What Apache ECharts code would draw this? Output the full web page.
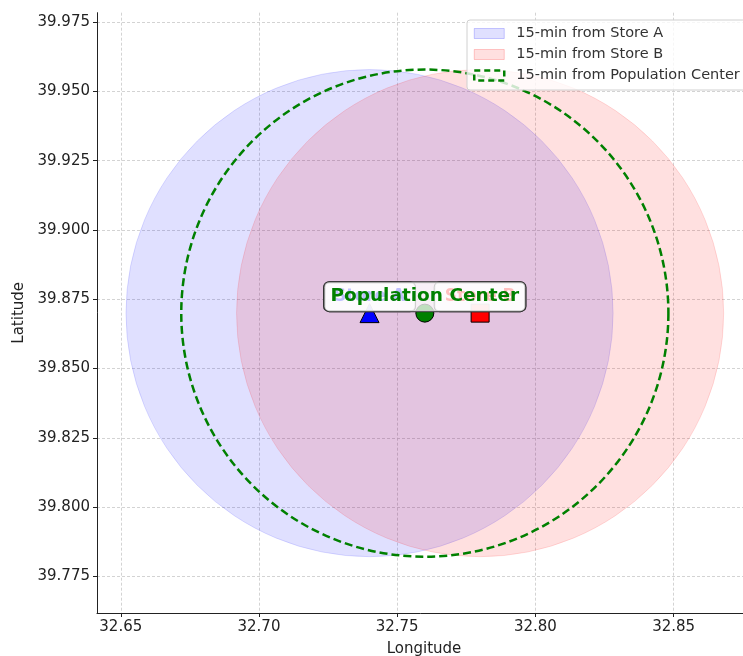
<!DOCTYPE html>
<html>
<head>
<meta charset="utf-8">
<script src="https://cdn.jsdelivr.net/npm/echarts@6/dist/echarts.min.js"></script>
<style>
  html, body { margin: 0; padding: 0; background: #fff; overflow: hidden; }
  #chart { width: 743px; height: 656px; }
</style>
</head>
<body>
<div id="chart"></div>
<script>
// ---- data ----
const storeA = [32.74, 39.87];
const storeB = [32.78, 39.87];
const popCenter = [32.76, 39.87];
const radiusDeg = 0.088;
const xTicks = [32.65, 32.70, 32.75, 32.80, 32.85];
const yTicks = [39.775, 39.800, 39.825, 39.850, 39.875, 39.900, 39.925, 39.950, 39.975];
const xRange = [32.6414, 32.878];
const yRange = [39.7618, 39.9784];
const nameA = '15-min from Store A';
const nameB = '15-min from Store B';
const nameP = '15-min from Population Center';

const FONT = 'DejaVu Sans';

function circleSeries(name, center, fill, stroke, lineWidth, dash, z) {
  return {
    type: 'custom',
    name: name,
    coordinateSystem: 'cartesian2d',
    z: z,
    silent: true,
    encode: { x: 0, y: 1 },
    data: [[center[0], center[1], radiusDeg]],
    itemStyle: { color: fill === 'none' ? stroke : fill },
    renderItem: function (params, api) {
      const c = api.coord([api.value(0), api.value(1)]);
      const s = api.size([api.value(2), api.value(2)]);
      const r = (s[0] + s[1]) / 2;
      return {
        type: 'circle',
        shape: { cx: c[0], cy: c[1], r: r },
        style: {
          fill: fill,
          stroke: stroke,
          lineWidth: lineWidth,
          lineDash: dash
        }
      };
    }
  };
}

function pointSeries(pt, symbol, color, labelText, labelColor, fontSize, pad, z) {
  return {
    type: 'scatter',
    z: z,
    symbol: symbol,
    symbolSize: symbol === 'triangle' ? 19 : 18,
    data: [pt],
    itemStyle: { color: color, borderColor: '#000', borderWidth: 1, opacity: 1 },
    label: {
      show: true,
      position: 'inside',
      offset: [0, -16.5],
      formatter: labelText,
      color: labelColor,
      fontFamily: FONT,
      fontWeight: 'bold',
      fontSize: fontSize,
      lineHeight: 19,
      backgroundColor: 'rgba(255,255,255,0.75)',
      borderColor: '#333',
      borderWidth: 1,
      borderRadius: 5,
      padding: pad
    },
    emphasis: { disabled: true }
  };
}

const chart = echarts.init(document.getElementById('chart'), null, { renderer: 'canvas', width: 743, height: 656 });

const axisLabelStyle = { color: '#222', fontFamily: FONT, fontSize: 15 };

chart.setOption({
  animation: false,
  backgroundColor: '#fff',
  grid: { left: 97, top: 12.7, width: 654, height: 600.3, containLabel: false, outerBoundsMode: 'none' },
  xAxis: {
    type: 'value',
    min: xRange[0], max: xRange[1],
    name: 'Longitude',
    nameLocation: 'middle',
    nameGap: 29,
    nameTextStyle: { color: '#222', fontFamily: FONT, fontSize: 15 },
    axisLine: { show: true, lineStyle: { color: '#222', width: 1 } },
    axisTick: { show: true, inside: false, length: 4, lineStyle: { color: '#222' }, customValues: xTicks },
    axisLabel: Object.assign({ margin: 7, customValues: xTicks, formatter: v => v.toFixed(2) }, axisLabelStyle),
    splitLine: { show: true, lineStyle: { color: '#c8c8c8', width: 0.8, type: [3, 2] } }
  },
  yAxis: {
    type: 'value',
    min: yRange[0], max: yRange[1],
    name: 'Latitude',
    nameLocation: 'middle',
    nameGap: 58,
    nameTextStyle: { color: '#222', fontFamily: FONT, fontSize: 15 },
    axisLine: { show: true, lineStyle: { color: '#222', width: 1 } },
    axisTick: { show: true, inside: false, length: 4, lineStyle: { color: '#222' }, customValues: yTicks },
    axisLabel: Object.assign({ margin: 7, customValues: yTicks, formatter: v => v.toFixed(3) }, axisLabelStyle),
    splitLine: { show: true, lineStyle: { color: '#c8c8c8', width: 0.8, type: [3, 2] } }
  },
  legend: {
    orient: 'vertical',
    left: 467,
    top: 20,
    padding: [6, 6, 7, 6],
    itemWidth: 30,
    itemHeight: 10,
    itemGap: 6,
    backgroundColor: 'rgba(255,255,255,0.8)',
    borderColor: '#d0d0d0',
    borderWidth: 1,
    borderRadius: 3,
    selectedMode: false,
    textStyle: { color: '#333', fontFamily: FONT, fontSize: 14.5, padding: [0, 0, 0, 7] },
    data: [
      { name: nameA, icon: 'rect', itemStyle: { color: 'rgba(0,0,255,0.12)', borderColor: 'rgba(0,0,255,0.2)', borderWidth: 1 } },
      { name: nameB, icon: 'rect', itemStyle: { color: 'rgba(255,0,0,0.12)', borderColor: 'rgba(255,0,0,0.2)', borderWidth: 1 } },
      { name: nameP, icon: 'rect', itemStyle: { color: 'rgba(0,0,0,0)', borderColor: '#008000', borderWidth: 2.5, borderType: [6, 4] } }
    ]
  },
  series: [
    circleSeries(nameA, storeA, 'rgba(0,0,255,0.12)', 'rgba(0,0,255,0.12)', 1, null, 1),
    circleSeries(nameB, storeB, 'rgba(255,0,0,0.12)', 'rgba(255,0,0,0.12)', 1, null, 2),
    circleSeries(nameP, popCenter, 'none', '#008000', 2.5, [8, 4], 3),
    pointSeries(storeA, 'triangle', '#0000ff', 'Store A', '#0000ff', 17, [5, 10], 4),
    pointSeries(storeB, 'rect', '#ff0000', 'Store B', '#ff0000', 17, [5, 10], 5),
    pointSeries(popCenter, 'circle', '#008000', 'Population Center', '#008000', 18.5, [5, 6], 6)
  ]
});
</script>
</body>
</html>
